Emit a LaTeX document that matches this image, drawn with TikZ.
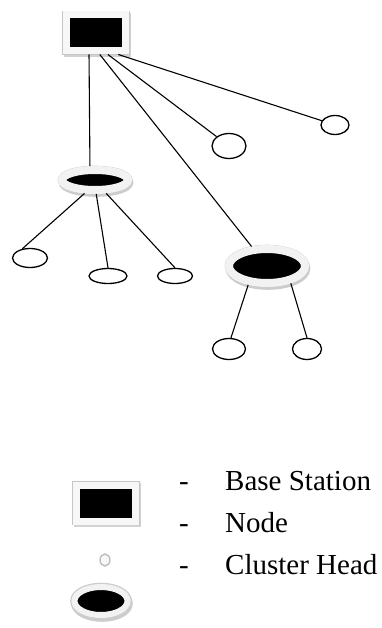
\documentclass[tikz,border=0pt]{standalone}
\usepackage{fontspec}
\setmainfont{Liberation Serif}
\usetikzlibrary{shapes.geometric}

\tikzset{
  sensor/.style={ellipse, draw, line width=1.3pt, fill=white, inner sep=0pt},
  station/.style={rectangle, fill=black, draw=gray!6, line width=7pt, inner sep=0pt,
    minimum width=59pt, minimum height=36pt,
    preaction={draw=gray!35, line width=8pt, transform canvas={shift={(1.5pt,-2pt)}}},
    preaction={draw=gray!45, line width=8.6pt}},
  head/.style={ellipse, fill=black, draw=gray!10, line width=8pt, inner sep=0pt,
    preaction={draw=gray!40, line width=8.6pt, transform canvas={shift={(1pt,-2.5pt)}}},
    preaction={draw=gray!40, line width=8.6pt}},
  link/.style={line width=1.1pt},
  legtext/.style={font=\fontsize{29}{33}\selectfont, inner sep=0pt, anchor=base west},
  legdash/.style={font=\fontsize{29}{33}\selectfont, inner sep=0pt, anchor=base}
}

\begin{document}
\begin{tikzpicture}[x=1pt,y=1pt]
\useasboundingbox (0,0) rectangle (382,-628);

% base station and cluster heads
\node[station] (bs) at (96,-33) {};
\node[head, minimum width=66pt, minimum height=20pt] (ch1) at (95,-180) {};
\node[head, minimum width=76pt, minimum height=34pt] (ch2) at (267,-266) {};

% nodes
\node[sensor, minimum width=28pt, minimum height=19pt] (n1) at (335,-125) {};
\node[sensor, minimum width=34pt, minimum height=25pt] (n2) at (229,-146) {};
\node[sensor, minimum width=35pt, minimum height=19pt] (n3) at (30,-258) {};
\node[sensor, minimum width=38pt, minimum height=15pt] (n4) at (108,-276) {};
\node[sensor, minimum width=35pt, minimum height=15pt] (n5) at (175,-276) {};
\node[sensor, minimum width=33pt, minimum height=21pt] (n6) at (229,-349) {};
\node[sensor, minimum width=29pt, minimum height=21pt] (n7) at (307,-349) {};

% links
\draw[link] (bs.-108) -- (ch1.110);
\draw[link] (bs.-80) -- (ch2);
\draw[link] (bs.-61) -- (n2);
\draw[link] (bs.-44) -- (n1);
\draw[link] (ch1.-128) -- (n3.130);
\draw[link] (ch1.-85) -- (n4.north);
\draw[link] (ch1.-50) -- (n5.north);
\draw[link] (ch2.-135) -- (n6.80);
\draw[link] (ch2.-36) -- (n7.north);

% legend
\node[station] (lbs) at (106,-503) {};
\node[ellipse, draw=gray!50, fill=gray!6, line width=1.4pt, inner sep=0pt,
  minimum width=10pt, minimum height=12pt,
  path picture={\fill (path picture bounding box.center) ++(0,2) ellipse (0.8 and 1.8);}]
  (lnode) at (105,-560) {};
\node[head, line width=6pt, minimum width=53pt, minimum height=28pt] (lch) at (101,-601) {};

\node[legdash] (d1) at (184,-490) {-};
\node[legdash] (d2) at (184,-532) {-};
\node[legdash] (d3) at (184,-574) {-};
\node[legtext] (t1) at (225,-490) {Base Station};
\node[legtext] (t2) at (225,-532) {Node};
\node[legtext] (t3) at (225,-574) {Cluster Head};
\end{tikzpicture}
\end{document}
